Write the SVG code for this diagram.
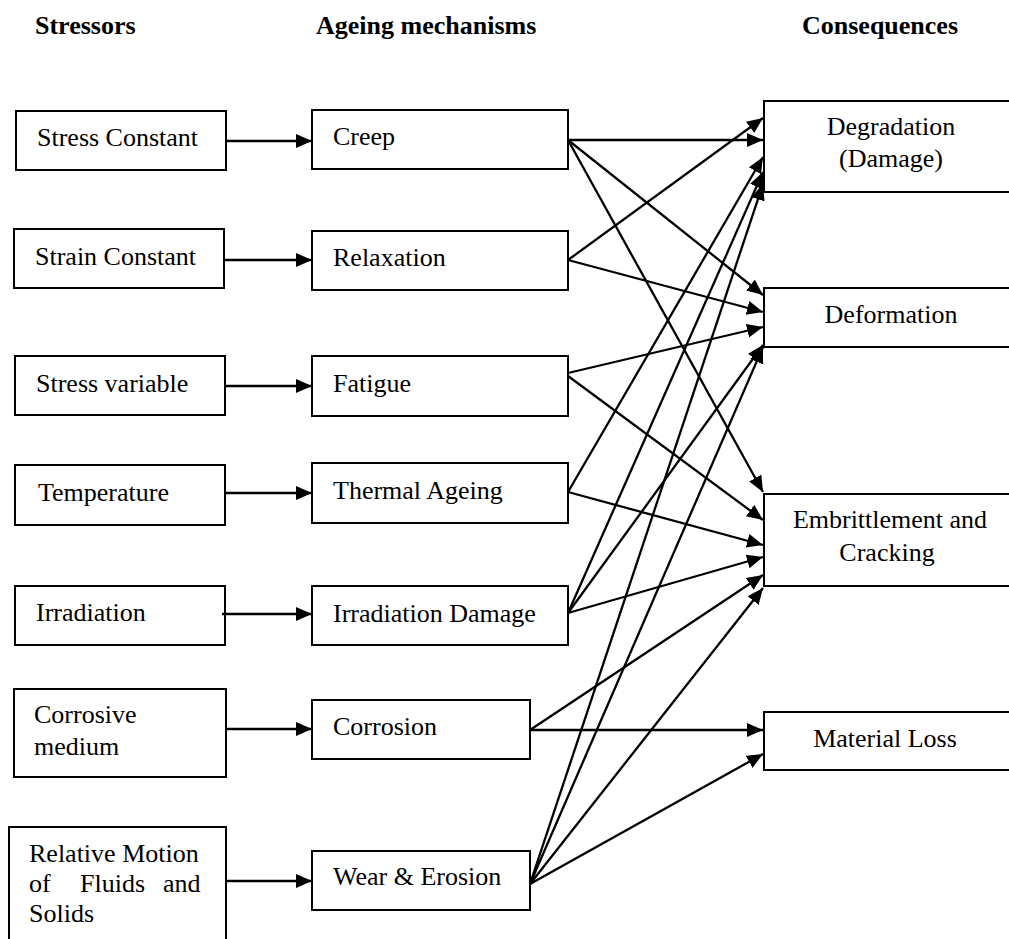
<svg xmlns="http://www.w3.org/2000/svg" width="1009" height="939" viewBox="0 0 1009 939">
<defs>
<style>
.box{fill:#fff;stroke:#000;stroke-width:2}
.t{font-family:'Liberation Serif',serif;font-size:26px;fill:#000}
.h{font-family:'Liberation Serif',serif;font-size:26px;font-weight:bold;fill:#000}
.c{text-anchor:middle}
.ln{stroke:#000;stroke-width:2.3;fill:none;marker-end:url(#ah)}
</style>
<marker id="ah" markerUnits="userSpaceOnUse" markerWidth="18" markerHeight="16" refX="16" refY="7" orient="auto">
<path d="M0,0 L16,7 L0,14 z" fill="#000"/>
</marker>
</defs>
<rect width="1009" height="939" fill="#fff"/>
<g id="headers" font-family="Liberation Serif, serif">
<text class="h" x="35" y="34">Stressors</text>
<text class="h" x="316" y="34">Ageing mechanisms</text>
<text class="h" x="802" y="34">Consequences</text>
</g>
<g font-family="Liberation Serif, serif" font-size="26">
<g id="s-stress-constant"><rect class="box" x="16" y="111" width="210" height="59"/><text class="t" x="37" y="146">Stress Constant</text></g>
<g id="s-strain-constant"><rect class="box" x="14" y="229" width="210" height="59"/><text class="t" x="35" y="265">Strain Constant</text></g>
<g id="s-stress-variable"><rect class="box" x="15" y="356" width="210" height="59"/><text class="t" x="36" y="392">Stress variable</text></g>
<g id="s-temperature"><rect class="box" x="15" y="465" width="210" height="60"/><text class="t" x="38" y="501">Temperature</text></g>
<g id="s-irradiation"><rect class="box" x="15" y="586" width="210" height="59"/><text class="t" x="36" y="621">Irradiation</text></g>
<g id="s-corrosive"><rect class="box" x="14" y="689" width="212" height="88"/><text class="t" x="34" y="723">Corrosive</text><text class="t" x="34" y="755">medium</text></g>
<g id="s-relative-motion"><rect class="box" x="9" y="827" width="217" height="130"/><text class="t" x="29" y="862">Relative Motion</text><text class="t" y="892"><tspan x="29">of</tspan> <tspan x="80">Fluids</tspan> <tspan x="163">and</tspan></text><text class="t" x="29" y="922">Solids</text></g>
<g id="m-creep"><rect class="box" x="312" y="110" width="256" height="59"/><text class="t" x="333" y="145">Creep</text></g>
<g id="m-relaxation"><rect class="box" x="312" y="231" width="256" height="59"/><text class="t" x="333" y="266">Relaxation</text></g>
<g id="m-fatigue"><rect class="box" x="312" y="356" width="256" height="60"/><text class="t" x="333" y="392">Fatigue</text></g>
<g id="m-thermal"><rect class="box" x="312" y="463" width="256" height="60"/><text class="t" x="333" y="499">Thermal Ageing</text></g>
<g id="m-irradiation-damage"><rect class="box" x="312" y="586" width="256" height="59"/><text class="t" x="333" y="622">Irradiation Damage</text></g>
<g id="m-corrosion"><rect class="box" x="312" y="700" width="218" height="59"/><text class="t" x="333" y="735">Corrosion</text></g>
<g id="m-wear"><rect class="box" x="312" y="851" width="218" height="59"/><text class="t" x="333" y="885">Wear &amp; Erosion</text></g>
<g id="c-degradation"><rect class="box" x="764" y="101" width="260" height="91"/><text class="t c" x="891" y="135">Degradation</text><text class="t c" x="891" y="167">(Damage)</text></g>
<g id="c-deformation"><rect class="box" x="764" y="288" width="260" height="59"/><text class="t c" x="891" y="323">Deformation</text></g>
<g id="c-embrittlement"><rect class="box" x="764" y="494" width="260" height="92"/><text class="t c" x="890" y="528">Embrittlement and</text><text class="t c" x="887" y="561">Cracking</text></g>
<g id="c-material-loss"><rect class="box" x="764" y="712" width="260" height="58"/><text class="t c" x="885" y="747">Material Loss</text></g>
</g>
<g id="connectors">
<line class="ln" x1="226" y1="141" x2="312" y2="141"/>
<line class="ln" x1="224" y1="260" x2="312" y2="260"/>
<line class="ln" x1="225" y1="386" x2="312" y2="386"/>
<line class="ln" x1="225" y1="493" x2="312" y2="493"/>
<line class="ln" x1="222" y1="614" x2="312" y2="614"/>
<line class="ln" x1="226" y1="729" x2="312" y2="729"/>
<line class="ln" x1="226" y1="881" x2="312" y2="881"/>
<line class="ln" x1="568" y1="140" x2="763" y2="140"/>
<line class="ln" x1="568" y1="140" x2="763" y2="295"/>
<line class="ln" x1="568" y1="140" x2="763" y2="492"/>
<line class="ln" x1="568" y1="260" x2="763" y2="118"/>
<line class="ln" x1="568" y1="260" x2="763" y2="312"/>
<line class="ln" x1="568" y1="373" x2="763" y2="327"/>
<line class="ln" x1="568" y1="376" x2="763" y2="520"/>
<line class="ln" x1="568" y1="492" x2="763" y2="157"/>
<line class="ln" x1="568" y1="492" x2="763" y2="545"/>
<line class="ln" x1="568" y1="613" x2="763" y2="172"/>
<line class="ln" x1="568" y1="613" x2="763" y2="345"/>
<line class="ln" x1="568" y1="613" x2="763" y2="557"/>
<line class="ln" x1="530" y1="730" x2="763" y2="575"/>
<line class="ln" x1="530" y1="730" x2="763" y2="730"/>
<line class="ln" x1="530" y1="884" x2="763" y2="184"/>
<line class="ln" x1="530" y1="884" x2="763" y2="347"/>
<line class="ln" x1="530" y1="884" x2="763" y2="588"/>
<line class="ln" x1="530" y1="884" x2="763" y2="754"/>
</g>
</svg>
